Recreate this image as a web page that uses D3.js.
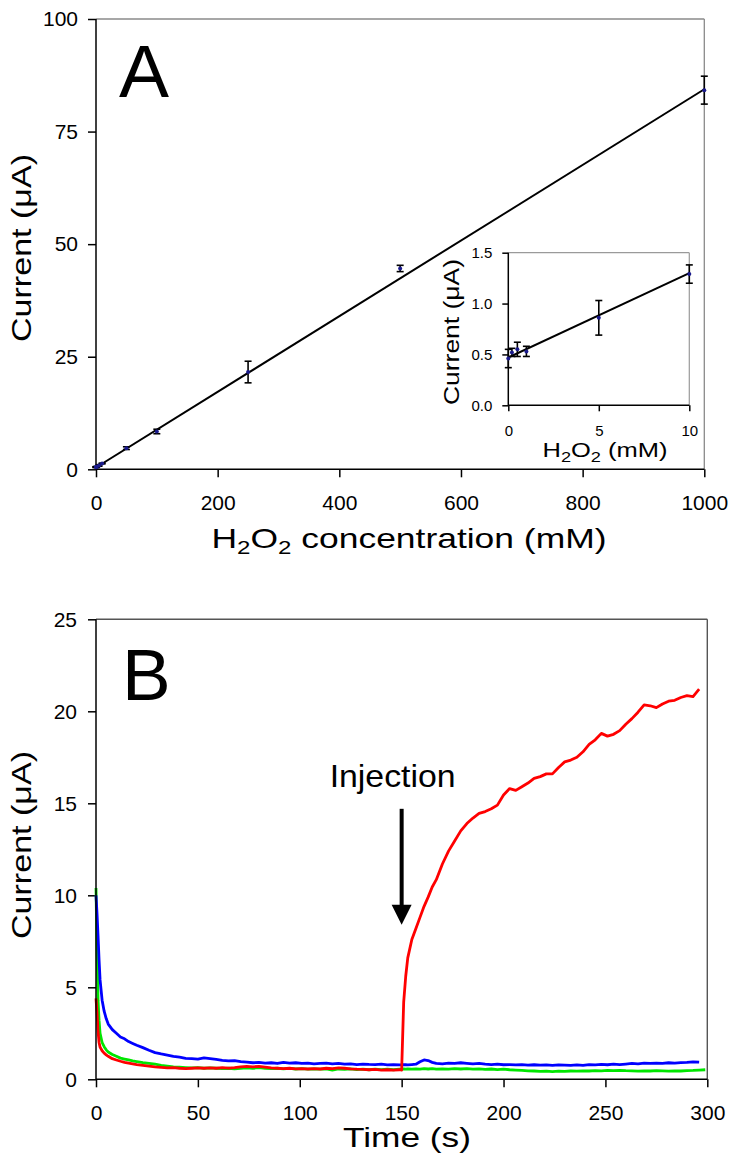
<!DOCTYPE html>
<html><head><meta charset="utf-8">
<script src="https://cdn.jsdelivr.net/npm/d3@7"></script>
<style>
html,body{margin:0;padding:0;background:#fff;}
svg{display:block;font-family:"Liberation Sans",Arial,sans-serif;}
</style></head>
<body>
<svg id="chart" width="739" height="1171"></svg>
<script>
// ---------- Panel A data ----------
const concA = [0, 0.2, 0.5, 1, 5, 10, 50, 100, 250, 500, 1000];
const currentA = [0.46, 0.52, 0.55, 0.53, 0.86, 1.29, 4.7, 8.4, 21.6, 44.6, 84.2];
const errorA = [0.09, 0.04, 0.07, 0.05, 0.17, 0.09, 0.3, 0.5, 2.4, 0.7, 3.1];
const fitAX = [0, 1000];
const fitAY = [0.4, 84.4];
const ticksAX = [0, 200, 400, 600, 800, 1000];
const ticksAY = [0, 25, 50, 75, 100];
// inset
const insetIdx = [0, 1, 2, 3, 4, 5];
const fitInsetX = [0, 10];
const fitInsetY = [0.47, 1.30];
const ticksInX = [0, 5, 10];
const ticksInY = [0, 0.5, 1.0, 1.5];

// ---------- Panel B data ----------
const timeB = [0,0.5,1,1.5,2,3,4,5,6,8,10,12,14,16,18,20,
 23,26,29,32,35,38,41,44,47,50,53,56,59,62,65,68,71,74,77,80,83,86,89,92,95,98,101,104,107,110,113,116,119,122,125,128,131,134,137,140,143,146,149,
 150,151,152,153,155,157,159,161,163,165,167,
 170,173,176,179,182,185,188,191,194,197,200,203,206,209,212,215,218,221,224,227,230,233,236,239,242,245,248,251,254,257,260,263,266,269,272,275,278,281,284,287,290,293,296,299];
const blueB = [10.0,9.0,7.8,6.5,5.4,4.3,3.7,3.3,3.0,2.7,2.5,2.3,2.2,2.05,1.95,1.85,
 1.72,1.58,1.45,1.38,1.32,1.25,1.2,1.14,1.12,1.1,1.16,1.12,1.08,1.03,1.0,1.02,0.96,0.93,0.9,0.92,0.88,0.9,0.86,0.92,0.88,0.9,0.86,0.88,0.84,0.86,0.88,0.84,0.86,0.82,0.84,0.8,0.83,0.81,0.8,0.82,0.78,0.8,0.78,
 0.78,0.8,0.79,0.78,0.8,0.82,0.95,1.05,1.02,0.92,0.86,
 0.84,0.88,0.86,0.9,0.87,0.84,0.86,0.82,0.8,0.82,0.79,0.8,0.78,0.8,0.77,0.79,0.77,0.78,0.76,0.78,0.77,0.76,0.78,0.76,0.8,0.78,0.81,0.79,0.82,0.8,0.83,0.86,0.84,0.88,0.86,0.88,0.87,0.9,0.88,0.91,0.92,0.95,0.93,null];
const greenB = [10.4,7.0,4.3,3.2,2.5,2.0,1.77,1.6,1.48,1.35,1.25,1.15,1.1,1.05,1.0,0.96,
 0.9,0.86,0.82,0.76,0.72,0.68,0.66,0.64,0.62,0.64,0.6,0.62,0.6,0.58,0.6,0.57,0.6,0.62,0.6,0.63,0.6,0.58,0.6,0.57,0.59,0.56,0.58,0.55,0.57,0.55,0.57,0.5,0.56,0.54,0.57,0.53,0.55,0.52,0.55,0.53,0.55,0.52,0.55,
 0.54,0.56,0.55,0.57,0.55,0.57,0.55,0.58,0.56,0.58,0.55,
 0.57,0.55,0.58,0.56,0.58,0.55,0.57,0.54,0.56,0.53,0.55,0.52,0.5,0.48,0.46,0.45,0.43,0.44,0.42,0.44,0.43,0.45,0.44,0.46,0.45,0.47,0.46,0.48,0.47,0.49,0.47,0.46,0.44,0.46,0.45,0.47,0.46,0.44,0.46,0.45,0.47,0.48,0.5,0.52];
const redB = [4.4,3.6,2.6,2.0,1.75,1.55,1.42,1.33,1.25,1.12,1.05,0.98,0.92,0.88,0.84,0.8,
 0.76,0.72,0.68,0.65,0.62,0.63,0.6,0.58,0.6,0.62,0.6,0.62,0.6,0.63,0.61,0.64,0.68,0.7,0.68,0.7,0.66,0.62,0.6,0.58,0.6,0.57,0.58,0.56,0.58,0.56,0.6,0.58,0.62,0.6,0.57,0.55,0.54,0.52,0.54,0.5,0.52,0.5,0.52,
 0.5,4.2,5.6,6.6,7.6,8.2,8.8,9.4,9.9,10.45,10.85,
 11.7,12.4,12.95,13.5,13.9,14.2,14.45,14.55,14.7,14.9,15.45,15.8,15.7,15.9,16.1,16.35,16.45,16.6,16.6,16.95,17.25,17.35,17.5,17.8,18.2,18.45,18.8,18.65,18.75,18.95,19.3,19.6,19.95,20.35,20.3,20.2,20.4,20.55,20.6,20.75,20.85,20.8,21.2,null];
const ticksBX = [0, 50, 100, 150, 200, 250, 300];
const ticksBY = [0, 5, 10, 15, 20, 25];
const seriesB = [
  {name: "green", values: greenB, color: "#00e600"},
  {name: "blue", values: blueB, color: "#0000ff"},
  {name: "red", values: redB, color: "#ff0000"}
];
const injectionTime = 150, injectionTop = 14.7, injectionTip = 8.4, injectionText = 15.9;

// ---------- drawing ----------
const svg = d3.select("#chart");
const FONT = '"Liberation Sans", Arial, sans-serif';

function styleAxis(g, size) {
  g.select(".domain").remove();
  g.selectAll(".tick line").attr("stroke", "#000").attr("stroke-width", 1.5);
  g.selectAll(".tick text").attr("fill", "#000").attr("font-size", size).attr("font-family", FONT);
}

// Panel A scales
const xA = d3.scaleLinear().domain([0, 1000]).range([96, 704.3]);
const yA = d3.scaleLinear().domain([0, 100]).range([469.3, 19]);

const gA = svg.append("g");
// frame top/right
gA.append("line").attr("x1", xA(0)).attr("x2", xA(1000)).attr("y1", yA(100)).attr("y2", yA(100)).attr("stroke", "#8a8a8a").attr("stroke-width", 1.3);
gA.append("line").attr("x1", xA(1000)).attr("x2", xA(1000)).attr("y1", yA(100)).attr("y2", yA(0)).attr("stroke", "#8a8a8a").attr("stroke-width", 1.3);

gA.append("g").attr("transform", `translate(0,${yA(0)})`)
  .call(d3.axisBottom(xA).tickValues(ticksAX).tickSize(8).tickPadding(18).tickFormat(d3.format("d")))
  .call(g => styleAxis(g, 21));
gA.append("g").attr("transform", `translate(${xA(0)},0)`)
  .call(d3.axisLeft(yA).tickValues(ticksAY).tickSize(8).tickPadding(10).tickFormat(d3.format("d")))
  .call(g => styleAxis(g, 21));
gA.append("line").attr("x1", xA(0)).attr("x2", xA(1000)).attr("y1", yA(0)).attr("y2", yA(0)).attr("stroke", "#000").attr("stroke-width", 1.5);
gA.append("line").attr("x1", xA(0)).attr("x2", xA(0)).attr("y1", yA(0)).attr("y2", yA(100)).attr("stroke", "#000").attr("stroke-width", 1.5);

// fit line
gA.append("path").datum(fitAX.map((x, i) => [x, fitAY[i]]))
  .attr("d", d3.line().x(d => xA(d[0])).y(d => yA(d[1])))
  .attr("stroke", "#000").attr("stroke-width", 2).attr("fill", "none");

function errorBars(g, xs, ys, idx, cap) {
  const pts = idx.map(i => ({x: concA[i], y: currentA[i], e: errorA[i]}));
  const eb = g.append("g");
  eb.selectAll("line.v").data(pts).join("line")
    .attr("x1", d => xs(d.x)).attr("x2", d => xs(d.x))
    .attr("y1", d => ys(d.y - d.e)).attr("y2", d => ys(d.y + d.e))
    .attr("stroke", "#000").attr("stroke-width", 1.6);
  eb.selectAll("line.t").data(pts).join("line")
    .attr("x1", d => xs(d.x) - cap).attr("x2", d => xs(d.x) + cap)
    .attr("y1", d => ys(d.y + d.e)).attr("y2", d => ys(d.y + d.e))
    .attr("stroke", "#000").attr("stroke-width", 1.6);
  eb.selectAll("line.b").data(pts).join("line")
    .attr("x1", d => xs(d.x) - cap).attr("x2", d => xs(d.x) + cap)
    .attr("y1", d => ys(d.y - d.e)).attr("y2", d => ys(d.y - d.e))
    .attr("stroke", "#000").attr("stroke-width", 1.6);
  eb.selectAll("circle").data(pts).join("circle")
    .attr("cx", d => xs(d.x)).attr("cy", d => ys(d.y)).attr("r", 2)
    .attr("fill", "#1a1a8c");
}
errorBars(gA, xA, yA, d3.range(concA.length), 3.5);

// titles A
gA.append("text").attr("x", 119).attr("y", 97).attr("font-size", 75).attr("font-family", FONT).text("A");
const titleAX = gA.append("text").attr("x", 409).attr("y", 548).attr("text-anchor", "middle")
  .attr("font-size", 28).attr("font-family", FONT)
  .attr("textLength", 395).attr("lengthAdjust", "spacingAndGlyphs");
titleAX.append("tspan").text("H");
titleAX.append("tspan").attr("font-size", 19).attr("dy", 6).text("2");
titleAX.append("tspan").attr("dy", -6).text("O");
titleAX.append("tspan").attr("font-size", 19).attr("dy", 6).text("2");
titleAX.append("tspan").attr("dy", -6).text(" concentration (mM)");
gA.append("text").attr("transform", "translate(31,248) rotate(-90)").attr("text-anchor", "middle")
  .attr("font-size", 28).attr("font-family", FONT)
  .attr("textLength", 188).attr("lengthAdjust", "spacingAndGlyphs").text("Current (\u03bcA)");

// Inset
const xI = d3.scaleLinear().domain([0, 10]).range([508.3, 689.3]);
const yI = d3.scaleLinear().domain([0, 1.5]).range([405.3, 252.7]);
const gI = svg.append("g");
gI.append("line").attr("x1", xI(0)).attr("x2", xI(10)).attr("y1", yI(1.5)).attr("y2", yI(1.5)).attr("stroke", "#9a9a9a").attr("stroke-width", 1.2);
gI.append("line").attr("x1", xI(10)).attr("x2", xI(10)).attr("y1", yI(1.5)).attr("y2", yI(0)).attr("stroke", "#9a9a9a").attr("stroke-width", 1.2);
gI.append("g").attr("transform", `translate(0,${yI(0)})`)
  .call(d3.axisBottom(xI).tickValues(ticksInX).tickSize(6).tickPadding(14).tickFormat(d3.format("d")))
  .call(g => styleAxis(g, 15));
gI.append("g").attr("transform", `translate(${xI(0)},0)`)
  .call(d3.axisLeft(yI).tickValues(ticksInY).tickSize(6).tickPadding(10).tickFormat(d3.format(".1f")))
  .call(g => styleAxis(g, 15));
gI.append("line").attr("x1", xI(0)).attr("x2", xI(10)).attr("y1", yI(0)).attr("y2", yI(0)).attr("stroke", "#000").attr("stroke-width", 1.5);
gI.append("line").attr("x1", xI(0)).attr("x2", xI(0)).attr("y1", yI(0)).attr("y2", yI(1.5)).attr("stroke", "#000").attr("stroke-width", 1.5);
gI.append("path").datum(fitInsetX.map((x, i) => [x, fitInsetY[i]]))
  .attr("d", d3.line().x(d => xI(d[0])).y(d => yI(d[1])))
  .attr("stroke", "#000").attr("stroke-width", 2).attr("fill", "none");
errorBars(gI, xI, yI, insetIdx, 3.5);
const titleIX = gI.append("text").attr("x", 605).attr("y", 457).attr("text-anchor", "middle")
  .attr("font-size", 21).attr("font-family", FONT)
  .attr("textLength", 125).attr("lengthAdjust", "spacingAndGlyphs");
titleIX.append("tspan").text("H");
titleIX.append("tspan").attr("font-size", 15).attr("dy", 5).text("2");
titleIX.append("tspan").attr("dy", -5).text("O");
titleIX.append("tspan").attr("font-size", 15).attr("dy", 5).text("2");
titleIX.append("tspan").attr("dy", -5).text(" (mM)");
gI.append("text").attr("transform", "translate(459,332) rotate(-90)").attr("text-anchor", "middle")
  .attr("font-size", 22).attr("font-family", FONT)
  .attr("textLength", 146).attr("lengthAdjust", "spacingAndGlyphs").text("Current (\u03bcA)");

// Panel B
const xB = d3.scaleLinear().domain([0, 300]).range([96, 707.3]);
const yB = d3.scaleLinear().domain([0, 25]).range([1079.3, 619.3]);
const gB = svg.append("g");
gB.append("line").attr("x1", xB(0)).attr("x2", xB(300)).attr("y1", yB(25)).attr("y2", yB(25)).attr("stroke", "#555").attr("stroke-width", 1.4);
gB.append("line").attr("x1", xB(300)).attr("x2", xB(300)).attr("y1", yB(25)).attr("y2", yB(0)).attr("stroke", "#555").attr("stroke-width", 1.4);
gB.append("g").attr("transform", `translate(0,${yB(0)})`)
  .call(d3.axisBottom(xB).tickValues(ticksBX).tickSize(8).tickPadding(18).tickFormat(d3.format("d")))
  .call(g => styleAxis(g, 21));
gB.append("g").attr("transform", `translate(${xB(0)},0)`)
  .call(d3.axisLeft(yB).tickValues(ticksBY).tickSize(8).tickPadding(11).tickFormat(d3.format("d")))
  .call(g => styleAxis(g, 21));

const lineB = d3.line().defined(d => d[1] != null).x(d => xB(d[0])).y(d => yB(d[1]));
gB.selectAll("path.series").data(seriesB).join("path")
  .attr("class", "series")
  .attr("d", s => lineB(timeB.map((t, i) => [t, s.values[i]])))
  .attr("stroke", s => s.color).attr("stroke-width", 2.8).attr("fill", "none")
  .attr("stroke-linejoin", "round");

gB.append("line").attr("x1", xB(0)).attr("x2", xB(300)).attr("y1", yB(0)).attr("y2", yB(0)).attr("stroke", "#000").attr("stroke-width", 1.5);
gB.append("line").attr("x1", xB(0)).attr("x2", xB(0)).attr("y1", yB(0)).attr("y2", yB(25)).attr("stroke", "#000").attr("stroke-width", 1.5);

// annotation
const ax = xB(injectionTime);
gB.append("line").attr("x1", ax).attr("x2", ax).attr("y1", yB(injectionTop)).attr("y2", yB(injectionTip) - 18)
  .attr("stroke", "#000").attr("stroke-width", 4);
gB.append("path").attr("d", `M${ax - 10},${yB(injectionTip) - 20} L${ax + 10},${yB(injectionTip) - 20} L${ax},${yB(injectionTip)} Z`).attr("fill", "#000");
gB.append("text").attr("x", ax - 9).attr("y", yB(injectionText)).attr("text-anchor", "middle")
  .attr("font-size", 32).attr("font-family", FONT)
  .attr("textLength", 126).attr("lengthAdjust", "spacingAndGlyphs").text("Injection");

gB.append("text").attr("x", 122).attr("y", 700).attr("font-size", 73).attr("font-family", FONT).text("B");
gB.append("text").attr("x", 407).attr("y", 1147).attr("text-anchor", "middle")
  .attr("font-size", 28).attr("font-family", FONT)
  .attr("textLength", 128).attr("lengthAdjust", "spacingAndGlyphs").text("Time (s)");
gB.append("text").attr("transform", "translate(31,845) rotate(-90)").attr("text-anchor", "middle")
  .attr("font-size", 28).attr("font-family", FONT)
  .attr("textLength", 188).attr("lengthAdjust", "spacingAndGlyphs").text("Current (\u03bcA)");
</script>
</body></html>
